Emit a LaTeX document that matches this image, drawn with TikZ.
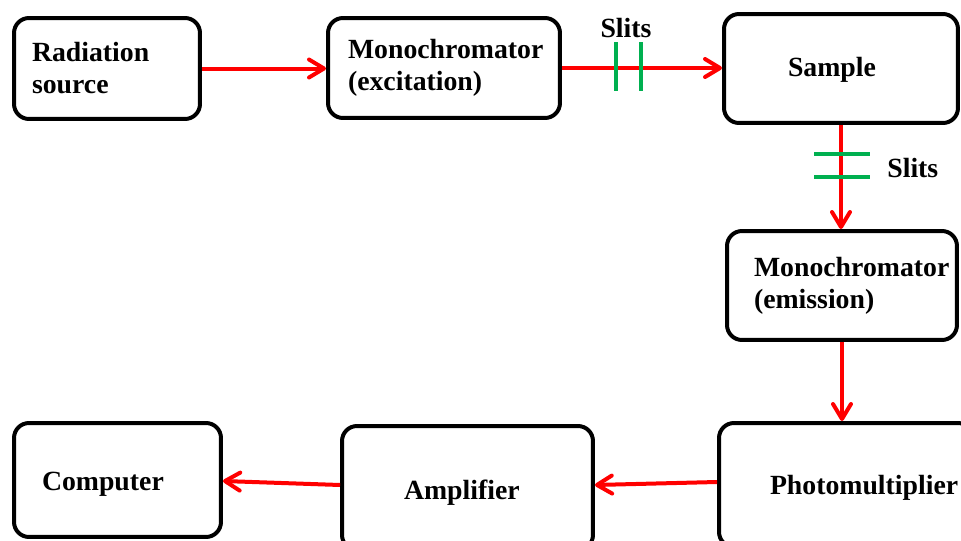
\documentclass[tikz,border=0pt]{standalone}
\usepackage{fontspec}
\setmainfont{Liberation Serif}
\usetikzlibrary{arrows.meta}
\definecolor{slitgreen}{RGB}{0,176,80}
\hyphenpenalty=10000
\exhyphenpenalty=10000

\begin{document}
\begin{tikzpicture}[x=0.02cm,y=-0.02cm,
   box/.style={draw,line width=0.08cm,rounded corners=0.3cm,inner sep=0pt,align=left,
      font=\fontsize{15.8}{18.2}\selectfont\bfseries},
   beam/.style={red,line width=0.08cm,
      -{Straight Barb[length=0.3cm,width=0.36cm,line cap=round,line join=round]}},
   slit/.style={slitgreen,line width=0.09cm},
   lbl/.style={inner sep=0pt,font=\fontsize{15.8}{18.2}\selectfont\bfseries}]

   \useasboundingbox (0,0) rectangle (961,541);

   \node[box,minimum width=3.72cm,minimum height=2.02cm,text width=3.0cm] (rad) at (107,68.5) {Radiation\\source};
   \node[box,minimum width=4.64cm,minimum height=2.0cm,text width=3.84cm] (monoex) at (444,68) {Monochromator\\(excitation)};
   \node[box,minimum width=4.68cm,minimum height=2.18cm,text width=2.12cm,text height=0.42cm] (sample) at (841,68.5) {Sample};
   \node[box,minimum width=4.60cm,minimum height=2.18cm,text width=3.52cm] (monoem) at (842,285.5) {Monochromator\\(emission)};
   \node[box,minimum width=5.08cm,minimum height=2.48cm,text width=3.04cm,text height=0.48cm] (photo) at (846,485) {Photomultiplier};
   \node[box,minimum width=5.02cm,minimum height=2.48cm,text width=2.54cm,text height=0.56cm] (amp) at (467.5,488) {Amplifier};
   \node[box,minimum width=4.14cm,minimum height=2.28cm,text width=3.02cm,text height=0.52cm] (comp) at (117.5,480) {Computer};

   \draw[beam] (rad.east) -- (rad.east -| monoex.west);
   \draw[beam] (monoex.east) -- (monoex.east -| sample.west);
   \draw[beam] (sample.south) -- (sample.south |- monoem.north);
   \draw[beam] (monoem.south) -- (monoem.south |- photo.north);
   \draw[beam] ([yshift=0.06cm]photo.west) -- ([yshift=0.06cm]amp.east);
   \draw[beam] ([yshift=0.06cm]amp.west) -- ([yshift=-0.02cm]comp.east);

   \foreach \x in {616,641} {
      \draw[slit] (\x,42) -- (\x,91);
   }
   \foreach \y in {154,177} {
      \draw[slit] (814,\y) -- (870,\y);
   }
   \node[lbl,anchor=base] (slitsex) at (626,37) {Slits};
   \node[lbl,anchor=base west] (slitsem) at (887,177) {Slits};

\end{tikzpicture}
\end{document}
